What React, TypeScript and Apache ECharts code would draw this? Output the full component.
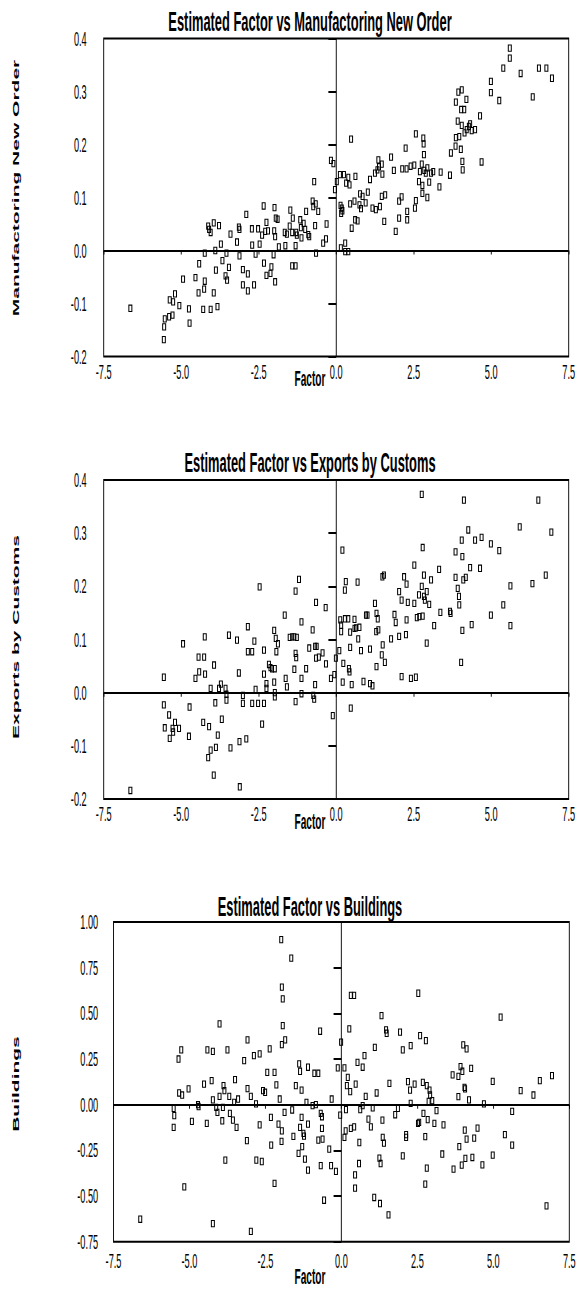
import React, { useEffect, useRef } from "react";
import * as echarts from "echarts";

// horizontal compression of the whole figure (the original is a squeezed chart)
const S = 0.46;
const INNER_W = 581 / S;
const H = 1295;

const xTicksMin = -7.5;
const xTicksMax = 7.5;
const xTickStep = 2.5;

const titles = [
  "Estimated Factor vs Manufactoring New Order",
  "Estimated Factor vs Exports by Customs",
  "Estimated Factor vs Buildings",
];
const yNames = ["Manufactoring New Order", "Exports by Customs", "Buildings"];
const xName = "Factor";

// Factor vs Manufactoring New Order
const mnoPoints: number[][] = [
  [-6.64, -0.109], [-5.56, -0.168], [-5.55, -0.144], [-5.53, -0.129], [-5.37, -0.093],
  [-5.39, -0.125], [-5.28, -0.122], [-5.26, -0.097], [-5.2, -0.082], [-5.06, -0.104],
  [-4.94, -0.054], [-4.75, -0.11], [-4.73, -0.137], [-4.54, -0.051], [-4.42, -0.025],
  [-4.44, -0.08], [-4.29, -0.111], [-4.24, -0.058], [-4.26, -0.073], [-4.24, -0.005],
  [-4.13, 0.046], [-4.1, 0.04], [-4.05, 0.034], [-3.95, 0.052], [-3.78, 0.047],
  [-4.05, -0.111], [-3.95, -0.08], [-3.83, -0.106], [-3.9, 0.0], [-3.88, -0.037],
  [-3.72, 0.012], [-3.67, -0.019], [-3.57, -0.048], [-3.52, -0.056], [-3.54, -0.005],
  [-3.46, -0.032], [-3.41, 0.031], [-3.2, 0.016], [-3.14, 0.044], [-3.12, -0.01],
  [-3.12, 0.04], [-3.01, -0.036], [-2.85, -0.044], [-3.01, -0.065], [-2.85, -0.076],
  [-2.65, -0.065], [-2.9, 0.068], [-2.72, 0.041], [-2.52, 0.041], [-2.71, 0.01],
  [-2.6, -0.007], [-2.47, 0.012], [-2.39, 0.029], [-2.34, 0.084], [-2.25, 0.053],
  [-2.29, 0.036], [-2.2, 0.037], [-2.33, -0.024], [-2.25, -0.047], [-2.12, -0.043],
  [-2.09, -0.031], [-1.97, -0.059], [-1.99, 0.081], [-2.0, 0.037], [-1.95, 0.061],
  [-1.89, 0.059], [-1.97, 0.026], [-2.02, -0.008], [-1.85, 0.007], [-1.64, 0.009],
  [-1.66, 0.034], [-1.59, 0.031], [-1.5, 0.046], [-1.42, -0.029], [-1.31, -0.029],
  [-1.48, 0.076], [-1.4, 0.061], [-1.31, 0.009], [-1.42, 0.034], [-1.29, 0.034],
  [-1.27, 0.029], [-1.16, 0.058], [-1.14, 0.043], [-1.12, 0.024], [-1.05, 0.051],
  [-1.0, 0.04], [-0.97, 0.074], [-0.9, 0.03], [-0.87, 0.026], [-0.76, 0.093],
  [-0.74, 0.083], [-0.66, 0.088], [-0.58, 0.074], [-0.71, 0.13], [-0.68, 0.047],
  [-0.65, -0.005], [-0.42, 0.014], [-0.33, 0.022], [-0.31, 0.05], [-0.17, 0.17],
  [-0.09, 0.164], [-0.04, 0.115], [0.02, 0.13], [0.12, 0.143], [0.18, 0.08],
  [0.2, 0.075], [0.16, 0.07], [0.14, 0.085], [0.15, 0.005], [0.29, 0.014],
  [0.29, -0.002], [0.39, -0.002], [0.25, 0.143], [0.32, 0.127], [0.39, 0.138],
  [0.43, 0.124], [0.48, 0.21], [0.45, 0.088], [0.5, 0.042], [0.59, 0.093],
  [0.61, 0.058], [0.69, 0.056], [0.62, 0.14], [0.75, 0.086], [0.77, 0.107],
  [0.85, 0.102], [0.8, 0.079], [0.95, 0.09], [1.02, 0.11], [1.09, 0.134],
  [1.17, 0.08], [1.25, 0.146], [1.28, 0.077], [1.33, 0.152], [1.36, 0.171],
  [1.38, 0.158], [1.41, 0.083], [1.47, 0.163], [1.49, 0.144], [1.47, 0.102],
  [1.55, 0.055], [1.58, 0.105], [1.77, 0.176], [1.86, 0.151], [1.92, 0.036],
  [2.03, 0.093], [2.03, 0.061], [2.11, 0.101], [2.13, 0.154], [2.24, 0.193],
  [2.27, 0.154], [2.29, 0.074], [2.29, 0.058], [2.4, 0.159], [2.52, 0.161],
  [2.54, 0.08], [2.57, 0.094], [2.57, 0.22], [2.67, 0.13], [2.7, 0.149],
  [2.76, 0.163], [2.78, 0.123], [2.78, 0.108], [2.81, 0.212], [2.82, 0.201],
  [2.83, 0.181], [2.84, 0.151], [2.89, 0.146], [2.94, 0.156], [2.94, 0.1],
  [3.0, 0.129], [3.06, 0.146], [3.13, 0.149], [3.33, 0.12], [3.37, 0.148],
  [3.67, 0.142], [3.7, 0.184], [3.85, 0.197], [3.86, 0.213], [3.86, 0.28],
  [3.94, 0.299], [4.05, 0.303], [3.92, 0.244], [3.97, 0.215], [4.02, 0.191],
  [4.05, 0.236], [4.07, 0.168], [4.08, 0.152], [4.03, 0.266], [4.13, 0.266],
  [4.2, 0.285], [4.14, 0.222], [4.21, 0.228], [4.28, 0.234], [4.32, 0.239],
  [4.37, 0.226], [4.48, 0.228], [4.64, 0.254], [4.69, 0.167], [4.99, 0.319],
  [4.99, 0.298], [5.26, 0.283], [5.39, 0.344], [5.6, 0.382], [5.6, 0.363],
  [5.95, 0.334], [6.34, 0.29], [6.54, 0.344], [6.78, 0.344], [6.96, 0.325],
];

// Factor vs Exports by Customs
const exportPoints: number[][] = [
  [-6.64, -0.184], [-5.56, 0.029], [-5.56, -0.023], [-5.53, -0.066], [-5.39, -0.042],
  [-5.37, -0.086], [-5.28, -0.067], [-5.26, -0.074], [-5.2, -0.056], [-5.07, -0.067],
  [-4.94, 0.092], [-4.73, -0.027], [-4.75, -0.082], [-4.54, 0.027], [-4.44, 0.067],
  [-4.42, 0.039], [-4.26, 0.067], [-4.23, 0.035], [-4.24, 0.105], [-4.29, -0.056],
  [-4.1, -0.064], [-4.13, -0.122], [-4.05, -0.108], [-3.95, -0.155], [-3.94, 0.052],
  [-4.05, 0.008], [-3.9, -0.019], [-3.88, -0.103], [-3.82, -0.08], [-3.72, 0.016],
  [-3.78, 0.008], [-3.69, -0.05], [-3.57, 0.008], [-3.54, -0.003], [-3.54, -0.014],
  [-3.46, 0.108], [-3.41, -0.104], [-3.2, 0.099], [-3.14, 0.037], [-3.12, -0.092],
  [-3.11, -0.177], [-3.01, -0.005], [-3.01, -0.02], [-2.9, -0.087], [-2.85, 0.124],
  [-2.85, 0.077], [-2.71, 0.077], [-2.71, -0.02], [-2.64, 0.097], [-2.6, 0.006],
  [-2.52, -0.02], [-2.47, 0.199], [-2.39, -0.059], [-2.33, -0.02], [-2.33, 0.08],
  [-2.33, 0.035], [-2.25, 0.017], [-2.25, 0.008], [-2.17, 0.053], [-2.12, 0.047],
  [-2.07, 0.045], [-1.98, 0.045], [-2.0, 0.02], [-2.0, 0.117], [-1.95, 0.102],
  [-1.93, 0.077], [-1.88, 0.092], [-1.98, 0.0], [-1.98, -0.008], [-1.66, 0.146],
  [-1.63, 0.027], [-1.59, 0.011], [-1.5, 0.104], [-1.42, 0.105], [-1.35, 0.105],
  [-1.31, 0.074], [-1.29, 0.066], [-1.35, 0.044], [-1.31, -0.017], [-1.31, 0.191],
  [-1.2, 0.213], [-1.27, 0.104], [-1.12, 0.133], [-1.12, 0.027], [-1.12, -0.002],
  [-0.65, 0.17], [-0.34, 0.16], [-0.76, 0.118], [-0.87, 0.084], [-0.68, 0.087],
  [-0.63, 0.087], [-0.44, 0.075], [-0.65, 0.065], [-0.56, 0.067], [-0.97, 0.045],
  [-0.33, 0.054], [-0.68, 0.015], [-0.17, 0.027], [-0.06, 0.034], [-0.01, 0.065],
  [-0.74, -0.005], [-0.71, -0.012], [-0.11, -0.043], [0.2, 0.268], [0.31, 0.209],
  [0.28, 0.193], [0.69, 0.208], [0.13, 0.137], [0.16, 0.127], [0.16, 0.115],
  [0.28, 0.139], [0.39, 0.139], [0.59, 0.138], [0.59, 0.121], [0.64, 0.122],
  [0.75, 0.123], [0.45, 0.114], [0.71, 0.101], [0.45, 0.085], [0.1, 0.079],
  [0.23, 0.055], [0.41, 0.045], [0.43, 0.039], [0.21, 0.02], [0.5, 0.015],
  [0.47, -0.029], [0.8, 0.079], [0.88, 0.021], [0.96, 0.146], [1.01, 0.146],
  [1.09, 0.082], [1.09, 0.017], [1.17, 0.013], [1.25, 0.168], [1.3, 0.149],
  [1.34, 0.139], [1.29, 0.115], [1.36, 0.118], [1.49, 0.218], [1.54, 0.221],
  [1.5, 0.09], [1.47, 0.071], [1.57, 0.057], [1.3, 0.049], [1.77, 0.101],
  [1.88, 0.147], [1.92, 0.132], [2.03, 0.106], [2.11, 0.03], [2.03, 0.19],
  [2.11, 0.174], [2.19, 0.218], [2.27, 0.204], [2.25, 0.109], [2.27, 0.137],
  [2.31, 0.17], [2.41, 0.027], [2.57, 0.029], [2.52, 0.24], [2.52, 0.168],
  [2.6, 0.141], [2.67, 0.184], [2.68, 0.143], [2.76, 0.2], [2.79, 0.144],
  [2.79, 0.273], [2.83, 0.221], [2.83, 0.181], [2.86, 0.174], [2.92, 0.19],
  [3.0, 0.166], [2.76, 0.373], [2.92, 0.093], [3.06, 0.212], [3.16, 0.126],
  [3.32, 0.232], [3.36, 0.151], [3.67, 0.153], [3.69, 0.149], [3.85, 0.265],
  [3.85, 0.217], [3.92, 0.196], [3.96, 0.181], [3.97, 0.165], [4.03, 0.057],
  [4.05, 0.287], [4.07, 0.256], [4.07, 0.117], [4.12, 0.362], [4.1, 0.212],
  [4.18, 0.217], [4.32, 0.235], [4.26, 0.306], [4.37, 0.128], [4.48, 0.287],
  [4.64, 0.234], [4.69, 0.292], [4.99, 0.28], [4.99, 0.146], [5.26, 0.267],
  [5.39, 0.165], [5.62, 0.201], [5.62, 0.126], [5.92, 0.312], [6.33, 0.205],
  [6.52, 0.362], [6.76, 0.221], [6.94, 0.302],
];

// Factor vs Buildings
const buildingPoints: number[][] = [
  [-6.62, -0.627], [-5.17, -0.45], [-5.52, -0.02], [-5.5, -0.06], [-5.52, -0.124],
  [-5.36, 0.25], [-5.27, 0.3], [-5.34, 0.064], [-5.24, 0.053], [-5.03, 0.086],
  [-4.92, -0.091], [-4.72, 0.0], [-4.7, -0.01], [-4.52, 0.113], [-4.43, -0.102],
  [-4.41, 0.3], [-4.23, 0.292], [-4.27, 0.132], [-4.23, 0.026], [-4.23, -0.651],
  [-4.12, -0.015], [-4.08, -0.042], [-4.01, 0.442], [-4.01, 0.046], [-3.92, -0.088],
  [-3.9, -0.015], [-3.88, 0.104], [-3.85, 0.077], [-3.82, -0.303], [-3.75, 0.3],
  [-3.69, 0.046], [-3.67, -0.048], [-3.57, -0.084], [-3.53, 0.013], [-3.5, 0.137],
  [-3.45, -0.124], [-3.4, 0.031], [-3.2, 0.241], [-3.11, -0.197], [-3.09, 0.355],
  [-3.09, 0.088], [-2.98, 0.046], [-2.98, -0.694], [-2.88, 0.269], [-2.81, 0.004],
  [-2.8, -0.303], [-2.69, 0.278], [-2.69, -0.11], [-2.62, -0.311], [-2.58, 0.077],
  [-2.51, 0.068], [-2.44, 0.177], [-2.36, 0.305], [-2.32, -0.069], [-2.31, -0.221],
  [-2.2, 0.177], [-2.2, -0.431], [-2.14, 0.108], [-2.07, -0.106], [-2.03, 0.031],
  [-1.97, -0.201], [-1.96, -0.143], [-1.98, 0.903], [-1.96, 0.643], [-1.93, 0.579],
  [-1.93, 0.433], [-1.96, 0.329], [-1.85, 0.355], [-1.87, -0.042], [-1.65, 0.802],
  [-1.62, -0.029], [-1.58, -0.174], [-1.5, 0.104], [-1.39, 0.223], [-1.36, 0.183],
  [-1.31, 0.08], [-1.41, -0.267], [-1.36, -0.124], [-1.31, -0.069], [-1.29, -0.23],
  [-1.25, -0.157], [-1.23, -0.172], [-1.2, -0.298], [-1.15, 0.013], [-1.1, 0.205],
  [-1.1, -0.106], [-1.1, -0.358], [-0.89, 0.172], [-0.76, 0.172], [-0.7, 0.402],
  [-0.95, -0.005], [-0.84, 0.0], [-0.68, -0.048], [-0.64, -0.066], [-0.64, -0.13],
  [-0.62, -0.188], [-0.76, -0.194], [-0.4, -0.243], [-0.68, -0.334], [-0.34, -0.334],
  [-0.18, -0.365], [-0.57, -0.523], [-0.32, 0.031], [-0.12, 0.201], [-0.04, -0.057],
  [-0.01, 0.342], [0.1, 0.201], [0.18, 0.104], [0.21, 0.15], [0.29, 0.071],
  [0.15, -0.027], [0.14, -0.143], [0.1, -0.179], [0.26, 0.415], [0.31, 0.598],
  [0.42, 0.598], [0.31, -0.13], [0.42, -0.121], [0.47, 0.113], [0.53, 0.232],
  [0.59, -0.207], [0.58, -0.322], [0.45, -0.384], [0.45, -0.457], [0.62, -0.027],
  [0.7, 0.205], [0.7, -0.005], [0.76, 0.269], [0.8, 0.046], [0.89, -0.079],
  [0.97, -0.121], [1.03, -0.018], [1.08, -0.508], [1.1, 0.314], [1.16, 0.064],
  [1.27, -0.541], [1.25, -0.292], [1.29, -0.322], [1.32, 0.488], [1.35, -0.084],
  [1.36, -0.179], [1.4, -0.21], [1.47, 0.409], [1.49, 0.391], [1.55, -0.603],
  [1.58, 0.117], [1.77, -0.055], [1.86, -0.02], [1.93, 0.397], [2.02, 0.3],
  [2.02, -0.28], [2.13, -0.164], [2.13, -0.179], [2.19, 0.126], [2.26, 0.08],
  [2.28, 0.007], [2.28, 0.323], [2.41, 0.113], [2.53, 0.61], [2.52, -0.102],
  [2.56, -0.097], [2.59, 0.378], [2.68, 0.122], [2.7, -0.048], [2.76, -0.175],
  [2.78, 0.351], [2.81, 0.104], [2.84, -0.082], [2.81, -0.347], [2.76, -0.435],
  [2.87, 0.018], [2.9, 0.08], [2.92, 0.053], [2.99, 0.022], [3.06, -0.102],
  [3.13, -0.033], [3.36, -0.111], [3.32, -0.27], [3.66, 0.163], [3.69, -0.353],
  [3.85, 0.155], [3.85, 0.044], [3.88, -0.23], [3.92, 0.208], [3.98, 0.183],
  [4.01, 0.327], [4.05, 0.095], [4.07, 0.086], [4.12, 0.305], [3.96, -0.331],
  [4.08, -0.294], [4.06, -0.139], [4.12, -0.188], [4.2, 0.026], [4.27, 0.199],
  [4.31, -0.289], [4.37, -0.183], [4.48, -0.128], [4.64, -0.329], [4.69, 0.004],
  [4.98, 0.128], [4.98, -0.276], [5.24, 0.479], [5.38, -0.164], [5.62, -0.037],
  [5.62, -0.221], [5.9, 0.077], [6.32, 0.053], [6.53, 0.132], [6.93, 0.159],
  [6.75, -0.554],
];

const yRanges = [
  { min: -0.2, max: 0.4, interval: 0.1, digits: 1 },
  { min: -0.2, max: 0.4, interval: 0.1, digits: 1 },
  { min: -0.75, max: 1.0, interval: 0.25, digits: 2 },
];

// layout (page pixels; x values are divided by S for the squeezed canvas)
const layout = [
  { left: 103.7, right: 568.7, top: 38.5, bottom: 356.5, yLabelGap: 17, xLabelGap: 5, titleY: 21.4, nameY: 379, yNameY: 188 },
  { left: 103.7, right: 568.7, top: 480, bottom: 799, yLabelGap: 17, xLabelGap: 5, titleY: 462.8, nameY: 822, yNameY: 637 },
  { left: 113.5, right: 569.3, top: 922, bottom: 1241.7, yLabelGap: 15.3, xLabelGap: 9, titleY: 906.7, nameY: 1277, yNameY: 1084 },
];

const FONT = '"Liberation Sans", Arial, sans-serif';
const TICK_FONT = '"Liberation Sans Narrow", "Arial Narrow", "Liberation Sans", Arial, sans-serif';
const MARKER = "path://M0,0L100,0L100,100L0,100Z M25,14L25,86L75,86L75,14Z";

export default function App() {
  const ref = useRef<HTMLDivElement>(null);

  useEffect(() => {
    if (!ref.current) return;
    const chart = echarts.init(ref.current, undefined, { renderer: "svg" });
    const datasets = [mnoPoints, exportPoints, buildingPoints];

    const grid = layout.map((l) => ({
      left: l.left / S,
      top: l.top,
      width: (l.right - l.left) / S,
      height: l.bottom - l.top,
      show: true,
      borderColor: "#000",
      borderWidth: 2,
      backgroundColor: "transparent",
    }));

    const xAxis = layout.map((l, i) => ({
      type: "value",
      gridIndex: i,
      min: xTicksMin,
      max: xTicksMax,
      interval: xTickStep,
      axisLine: { show: false },
      axisTick: { show: true, length: 4, lineStyle: { color: "#000", width: 2 } },
      splitLine: { show: false },
      axisLabel: {
        margin: l.xLabelGap,
        color: "#000",
        fontFamily: TICK_FONT,
        fontSize: 20,
        formatter: (v: number) => v.toFixed(1),
      },
    }));

    const yAxis = yRanges.map((r, i) => ({
      type: "value",
      gridIndex: i,
      min: r.min,
      max: r.max,
      interval: r.interval,
      axisLine: { show: false },
      axisTick: { show: true, length: 17, lineStyle: { color: "#000", width: 2 } },
      splitLine: { show: false },
      axisLabel: {
        margin: layout[i].yLabelGap / S,
        color: "#000",
        fontFamily: TICK_FONT,
        fontSize: 20,
        formatter: (v: number) => v.toFixed(r.digits),
      },
    }));

    const series = datasets.map((d, i) => ({
      type: "scatter",
      xAxisIndex: i,
      yAxisIndex: i,
      data: d,
      symbol: MARKER,
      symbolSize: [8.7, 7.3],
      itemStyle: { color: "#000", opacity: 1 },
      markLine: {
        silent: true,
        symbol: "none",
        label: { show: false },
        lineStyle: { color: "#000", width: 2, type: "solid" },
        data: [{ yAxis: 0 }, { xAxis: 0 }],
      },
    }));

    const graphic: any[] = [];
    layout.forEach((l, i) => {
      graphic.push({
        type: "text",
        x: 310 / S,
        y: l.titleY,
        style: {
          text: titles[i],
          fill: "#000",
          fontFamily: FONT,
          fontSize: 28,
          fontWeight: "bold",
          align: "center",
          verticalAlign: "middle",
          textAlign: "center",
          textVerticalAlign: "middle",
        },
      });
      graphic.push({
        type: "text",
        x: 310 / S,
        y: l.nameY,
        style: {
          text: xName,
          fill: "#000",
          fontFamily: FONT,
          fontSize: 22,
          fontWeight: "bold",
          align: "center",
          verticalAlign: "middle",
          textAlign: "center",
          textVerticalAlign: "middle",
        },
      });
      graphic.push({
        type: "text",
        x: 15 / S,
        y: l.yNameY,
        rotation: Math.PI / 2,
        style: {
          text: yNames[i],
          fill: "#000",
          fontFamily: FONT,
          fontSize: 21,
          fontWeight: "bold",
          align: "center",
          verticalAlign: "middle",
          textAlign: "center",
          textVerticalAlign: "middle",
        },
      });
    });

    chart.setOption({
      animation: false,
      backgroundColor: "#fff",
      grid,
      xAxis,
      yAxis,
      series,
      graphic,
    });

    return () => chart.dispose();
  }, []);

  return (
    <div
      style={{
        position: "absolute",
        left: 0,
        top: 0,
        width: 581,
        height: H,
        overflow: "hidden",
        background: "#fff",
      }}
    >
      <div
        ref={ref}
        style={{
          width: INNER_W,
          height: H,
          transform: `scaleX(${S})`,
          transformOrigin: "0 0",
        }}
      />
    </div>
  );
}
